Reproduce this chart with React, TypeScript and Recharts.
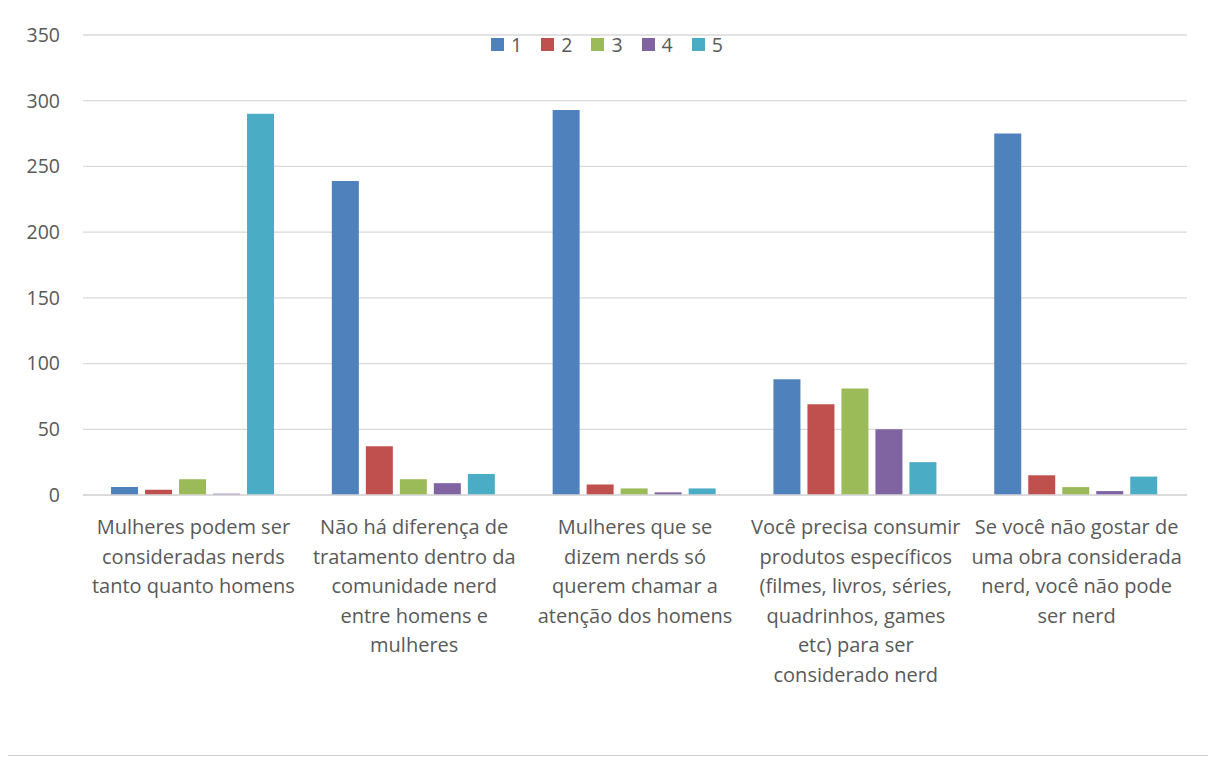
import { BarChart, Bar, XAxis, YAxis, CartesianGrid } from "recharts";

const categories = [
  "Mulheres podem ser\nconsideradas nerds\ntanto quanto homens",
  "Não há diferença de\ntratamento dentro da\ncomunidade nerd\nentre homens e\nmulheres",
  "Mulheres que se\ndizem nerds só\nquerem chamar a\natenção dos homens",
  "Você precisa consumir\nprodutos específicos\n(filmes, livros, séries,\nquadrinhos, games\netc) para ser\nconsiderado nerd",
  "Se você não gostar de\numa obra considerada\nnerd, você não pode\nser nerd",
];

const s1 = [6, 239, 293, 88, 275];
const s2 = [4, 37, 8, 69, 15];
const s3 = [12, 12, 5, 81, 6];
const s4 = [1, 9, 2, 50, 3];
const s5 = [290, 16, 5, 25, 14];

const seriesNames = ["1", "2", "3", "4", "5"];
const colors = ["#4F81BD", "#C0504D", "#9BBB59", "#8064A2", "#4BACC6"];
const yTicks = [0, 50, 100, 150, 200, 250, 300, 350];

const data = categories.map((c, i) => ({
  name: c,
  "1": s1[i],
  "2": s2[i],
  "3": s3[i],
  "4": s4[i],
  "5": s5[i],
}));

const FONT = "'Open Sans', sans-serif";
const TEXT = "#595959";

function CatTick(props: any) {
  const { x, y, payload } = props;
  const lines = String(payload.value).split("\n");
  return (
    <g transform={`translate(${x},${y})`}>
      {lines.map((l, i) => (
        <text
          key={i}
          x={0}
          y={25 - (y - 503) + i * 29.5}
          textAnchor="middle"
          fill={TEXT}
          fontSize={20}
          fontFamily={FONT}
        >
          {l}
        </text>
      ))}
    </g>
  );
}

export default function App() {
  return (
    <div
      style={{
        position: "relative",
        left: -3,
        top: -3,
        width: 1206,
        height: 749,
        border: "1px solid #d0d0d0",
        background: "#fff",
      }}
    >
      <BarChart
        width={1206}
        height={749}
        data={data}
        margin={{ top: 29, right: 25, bottom: 0, left: 0 }}
        barCategoryGap="12.7%"
        barGap={7}
      >
        <CartesianGrid vertical={false} stroke="#d9d9d9" strokeWidth={1.3} />
        <XAxis
          dataKey="name"
          height={260}
          interval={0}
          tickLine={false}
          axisLine={{ stroke: "#d9d9d9", strokeWidth: 1.3 }}
          tick={<CatTick />}
        />
        <YAxis
          width={77}
          domain={[0, 350]}
          ticks={yTicks}
          axisLine={false}
          tickLine={false}
          tickMargin={17}
          tick={{ fill: TEXT, fontSize: 19.5, fontFamily: FONT }}
        />
        {seriesNames.map((s, i) => (
          <Bar key={s} dataKey={s} fill={colors[i]} isAnimationActive={false} />
        ))}
      </BarChart>
      <div
        style={{
          position: "absolute",
          top: 25,
          left: 0,
          width: "100%",
          display: "flex",
          justifyContent: "center",
          gap: 19,
          fontFamily: FONT,
          fontSize: 19.5,
          color: TEXT,
          paddingRight: 4,
          boxSizing: "border-box",
        }}
      >
        {seriesNames.map((s, i) => (
          <div key={s} style={{ display: "flex", alignItems: "center", gap: 7 }}>
            <span
              style={{ width: 13, height: 13, background: colors[i], display: "inline-block" }}
            />
            <span>{s}</span>
          </div>
        ))}
      </div>
    </div>
  );
}
